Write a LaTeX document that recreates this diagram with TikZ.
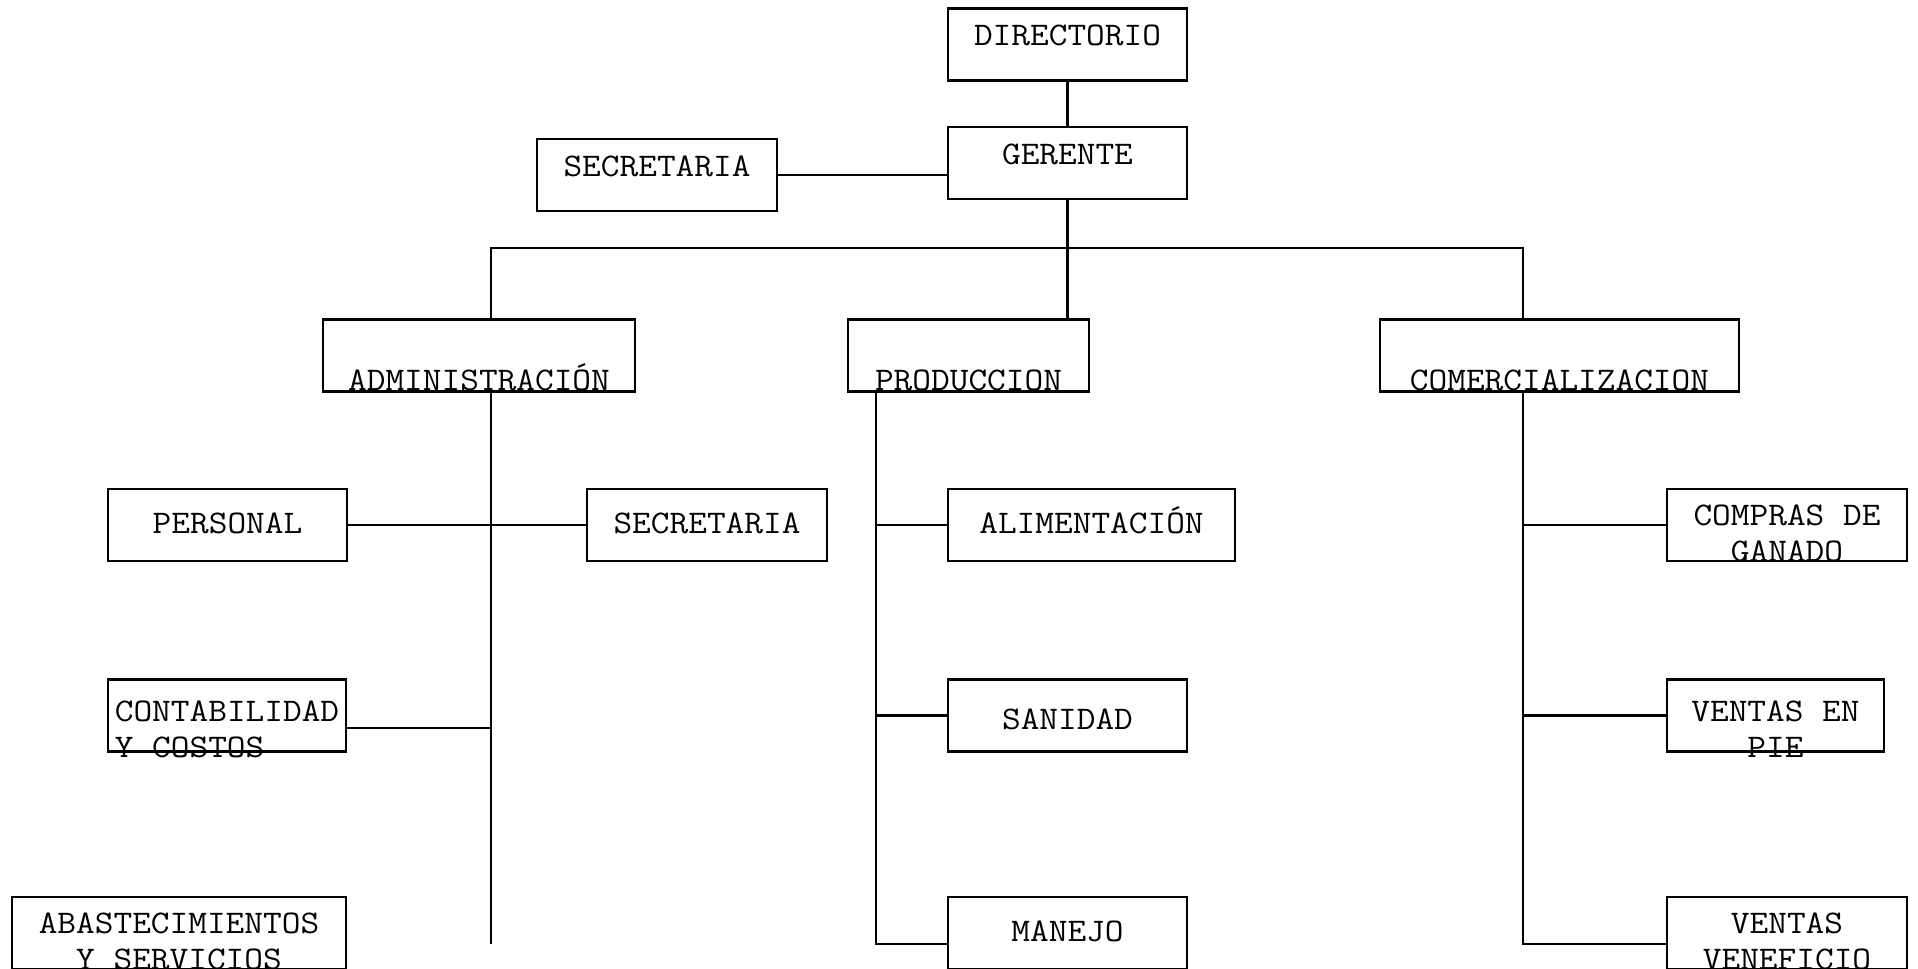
\documentclass[tikz,border=0pt]{standalone}
\usepackage{fontspec}
\newfontfamily\letra[FakeStretch=1.1]{Latin Modern Mono}
\begin{document}
\begin{tikzpicture}[x=0.5pt, y=-0.5pt, line width=1.1pt,
        caja/.style={draw, inner sep=0pt, minimum height=36pt, text depth=0pt,
            font=\letra\fontsize{16.5pt}{18pt}\selectfont},
        arriba/.style={text height=1.5pt},
        medio/.style={text height=8pt},
        abajo/.style={text height=35pt},
        doble/.style={align=center, text height=36pt},
        dobleb/.style={text height=6pt}]
        \useasboundingbox (0,0) rectangle (1918,969);
        \node[caja, arriba, minimum width=119.5pt] (dir) at (1067.5,44.5) {DIRECTORIO};
        \node[caja, arriba, minimum width=119.5pt] (ger) at (1067.5,163) {GERENTE};
        \node[caja, arriba, minimum width=120pt] (sec) at (657,175) {SECRETARIA};
        \node[caja, abajo, minimum width=156pt] (adm) at (479,355.5) {ADMINISTRACIÓN};
        \node[caja, abajo, minimum width=120.5pt] (pro) at (968.5,355.5) {PRODUCCION};
        \node[caja, abajo, minimum width=179.5pt] (com) at (1559.5,355.5) {COMERCIALIZACION};
        \node[caja, medio, minimum width=119.5pt] (per) at (227.5,525) {PERSONAL};
        \node[caja, medio, minimum width=120pt] (sec2) at (707,525) {SECRETARIA};
        \node[caja, dobleb, minimum width=119pt] (con) at (227,715.5)
            {\begin{tabular}[t]{@{}l@{}}CONTABILIDAD\\Y COSTOS\end{tabular}};
        \node[caja, doble, minimum width=167pt] (aba) at (179,933) {ABASTECIMIENTOS\\Y SERVICIOS};
        \node[caja, medio, minimum width=143.5pt] (ali) at (1091.5,525) {ALIMENTACIÓN};
        \node[caja, text height=14.4pt, minimum width=119.5pt] (san) at (1067.5,715.5) {SANIDAD};
        \node[caja, medio, minimum width=119.5pt] (man) at (1067.5,933) {MANEJO};
        \node[caja, doble, minimum width=120pt] (cga) at (1787,525) {COMPRAS DE\\GANADO};
        \node[caja, dobleb, minimum width=108.5pt] (vpi) at (1775.5,715.5)
            {\begin{tabular}[t]{@{}c@{}}VENTAS EN\\PIE\end{tabular}};
        \node[caja, doble, minimum width=120pt] (vbe) at (1787,933) {VENTAS\\VENEFICIO};
        \coordinate (eadm) at (491,248);
        \coordinate (ecom) at (1523,248);
        \coordinate (badm) at (491,944);
        \coordinate (bpro) at (876,944);
        \coordinate (bcom) at (1523,944);
        \draw (dir) -- (ger);
        \draw (sec) -- (sec -| ger.west);
        \draw (ger) -- (ger |- pro.north);
        \draw (eadm |- adm.north) -- (eadm) -- (ecom) -- (ecom |- com.north);
        \draw (badm |- adm.south) -- (badm);
        \draw (bpro |- pro.south) -- (bpro) -- ([yshift=-5.5pt]man.west);
        \draw (bcom |- com.south) -- (bcom) -- ([yshift=-5.5pt]vbe.west);
        \draw (per) -- (sec2);
        \draw ([yshift=-6.25pt]con.east) -- ([yshift=-6.25pt]con.east -| badm);
        \foreach \n in {ali, san}
            { \draw (\n.west) -- (\n.west -| bpro); }
        \foreach \n in {cga, vpi}
            { \draw (\n.west) -- (\n.west -| bcom); }
    \end{tikzpicture}
\end{document}
